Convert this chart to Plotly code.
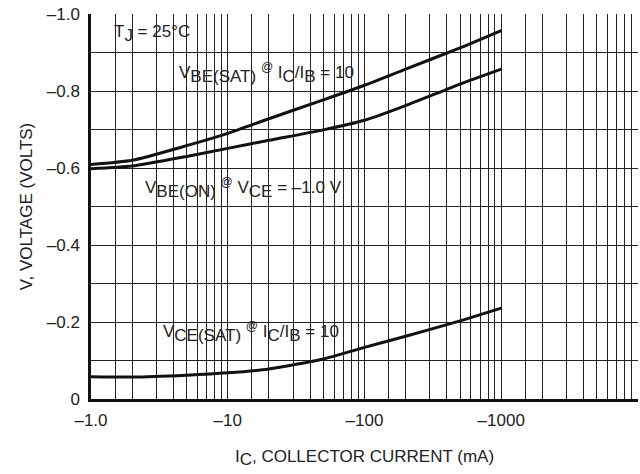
import plotly.graph_objects as go

# Collector current magnitude (mA); axis labels show negative values
ic_ma = [1, 2, 5, 10, 20, 50, 100, 200, 500, 1000]
vbe_sat = [-0.609, -0.620, -0.658, -0.690, -0.728, -0.777, -0.815, -0.857, -0.912, -0.957]
vbe_on = [-0.598, -0.605, -0.630, -0.651, -0.672, -0.699, -0.724, -0.762, -0.818, -0.857]
vce_sat = [-0.058, -0.057, -0.062, -0.068, -0.078, -0.104, -0.134, -0.163, -0.203, -0.236]

x_major = [1, 10, 100, 1000]
x_major_text = ["\u20131.0", "\u201310", "\u2013100", "\u20131000"]
x_minor = [m * d for d in [1, 10, 100, 1000] for m in [1.5, 2, 3, 4, 5, 6, 7, 8, 9]] + [10000]
y_major = [0, -0.2, -0.4, -0.6, -0.8, -1.0]
y_major_text = ["0", "\u20130.2", "\u20130.4", "\u20130.6", "\u20130.8", "\u20131.0"]
y_minor = [-0.1, -0.3, -0.5, -0.7, -0.9]

FONT = "Liberation Sans, Arial, sans-serif"
W, H = 640, 474
# plot area in window pixels: x 91..638, y 14..398.7
L, R, T, B = 91, 2, 14, 474 - 398.7
PW, PH = W - L - R, H - T - B

def px(x):
    return (x - L) / PW

def py(y):
    return (H - B - y) / PH

fig = go.Figure()
for vals in [vbe_sat, vbe_on, vce_sat]:
    fig.add_trace(go.Scatter(x=ic_ma, y=vals, mode="lines",
                             line=dict(color="#111", width=3, shape="spline", smoothing=0.6),
                             showlegend=False, hoverinfo="skip"))

boxes = [(92, 196, 17, 51), (158, 361, 56, 88), (118, 357, 172, 202), (148, 353, 314, 350)]
for x0, x1, y0, y1 in boxes:
    fig.add_shape(type="rect", xref="paper", yref="paper",
                  x0=px(x0), x1=px(x1), y0=py(y1), y1=py(y0),
                  fillcolor="white", line=dict(width=0), layer="between")

def sub(s):
    return '<sub><span style="font-size:17px">' + s + '</span></sub>'

def at():
    return '<sup><span style="font-size:12px">@</span></sup>'

texts = [
    (152, 33, "T" + sub("J") + " = 25°C"),
    (266, 73, "V" + sub("BE(SAT)") + " " + at() + " I" + sub("C") + "/I" + sub("B") + " = 10"),
    (243, 188, "V" + sub("BE(ON)") + " " + at() + " V" + sub("CE") + " = \u20131.0 V"),
    (251, 332, "V" + sub("CE(SAT)") + " " + at() + " I" + sub("C") + "/I" + sub("B") + " = 10"),
]
for x, y, t in texts:
    fig.add_annotation(x=px(x), y=py(y), xref="paper", yref="paper", text=t,
                       showarrow=False, xanchor="center", yanchor="middle",
                       font=dict(family=FONT, size=17, color="#222"))

fig.update_layout(
    width=W, height=H,
    margin=dict(l=L, r=R, t=T, b=B, pad=0),
    paper_bgcolor="white", plot_bgcolor="white",
    font=dict(family=FONT, size=17, color="#222"),
)
grid = dict(showgrid=True, gridcolor="#222", gridwidth=1.1, ticks="")
fig.update_xaxes(type="log", range=[0, 4], automargin=False,
                 tickvals=x_major, ticktext=x_major_text,
                 minor=dict(tickvals=x_minor, **grid), **grid,
                 showline=True, linecolor="#111", linewidth=2.5,
                 ticklabelstandoff=4, zeroline=False,
                 title=dict(text="I" + sub("C") + ", COLLECTOR CURRENT (mA)", standoff=21,
                            font=dict(family=FONT, size=17, color="#222")))
fig.update_yaxes(range=[0, -1.0], automargin=False,
                 tickvals=y_major, ticktext=y_major_text,
                 minor=dict(tickvals=y_minor, **grid), **grid,
                 showline=True, linecolor="#111", linewidth=2.5,
                 ticklabelstandoff=5, zeroline=False,
                 title=dict(text="V, VOLTAGE (VOLTS)", standoff=10,
                            font=dict(family=FONT, size=17, color="#222")))

fig.write_html("out.html", config={"displayModeBar": False},
               post_script="document.body.style.margin='0';")
